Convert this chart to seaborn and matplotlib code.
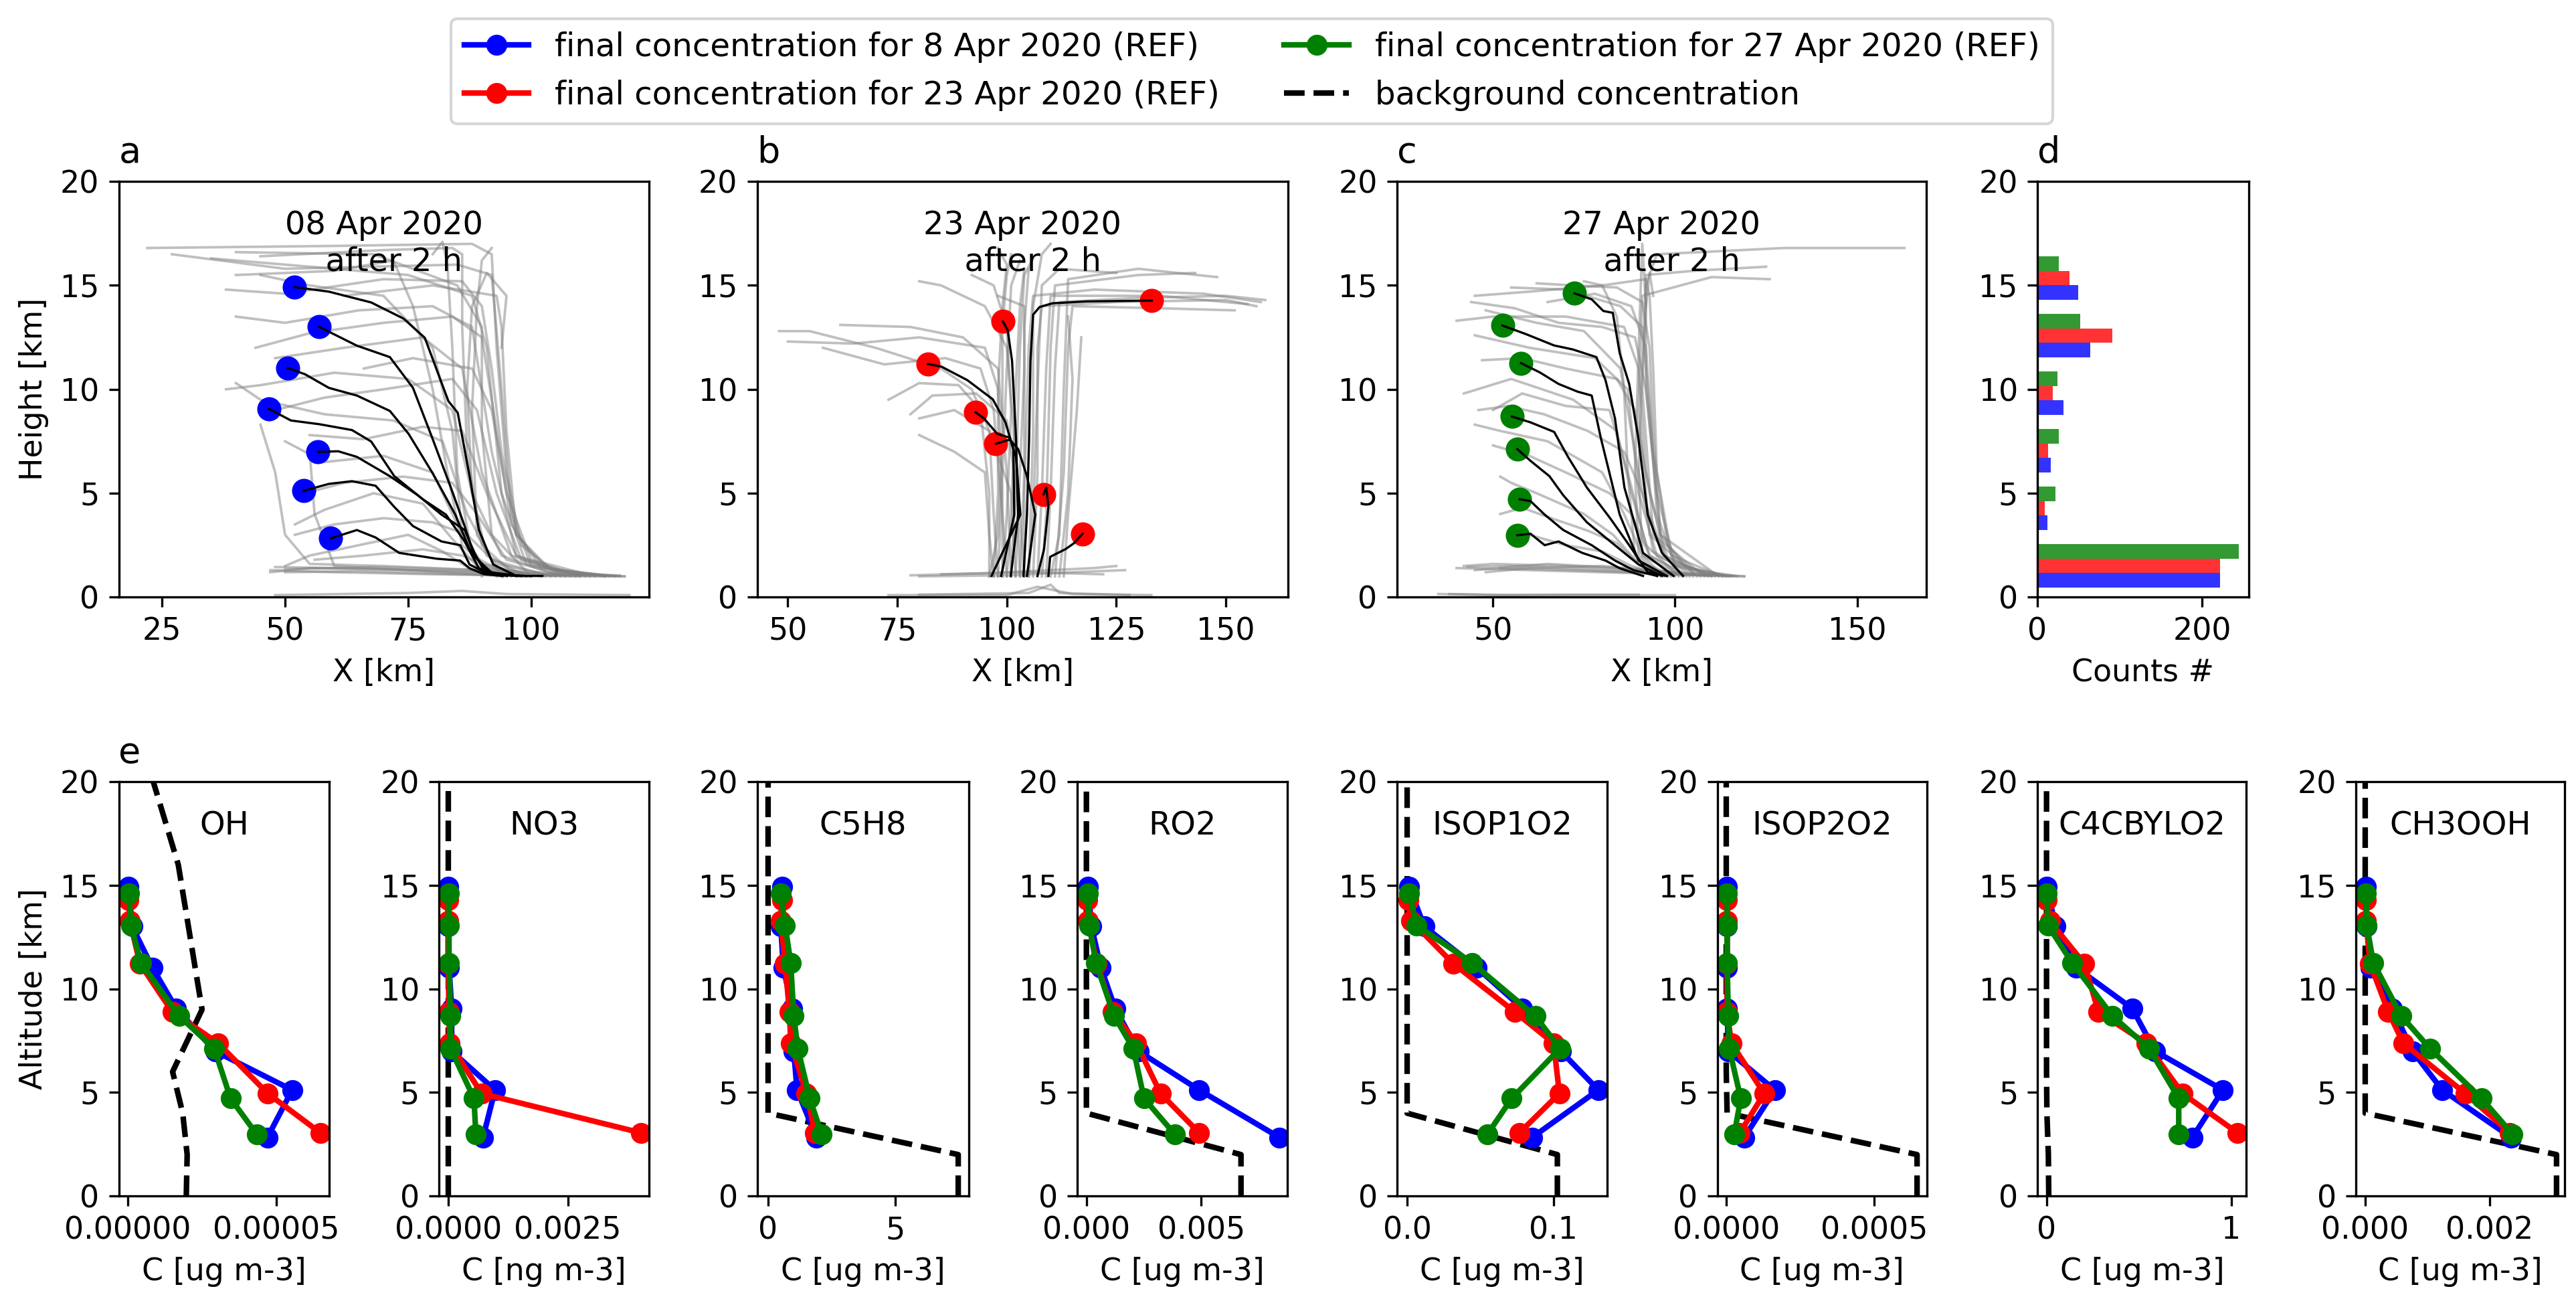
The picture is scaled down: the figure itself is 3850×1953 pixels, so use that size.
import numpy as np
import pandas as pd
import matplotlib
matplotlib.use("Agg")
import matplotlib.pyplot as plt
from matplotlib.lines import Line2D
import seaborn as sns

plt.rcParams['font.family'] = ['DejaVu Sans']
plt.rcParams['font.size'] = 11

# ---------------- data ----------------
date_labels = ["final concentration for 8 Apr 2020 (REF)",
               "final concentration for 23 Apr 2020 (REF)",
               "final concentration for 27 Apr 2020 (REF)"]
date_keys = ["8 Apr", "23 Apr", "27 Apr"]
date_colors = ["blue", "red", "green"]
panel_titles = ["08 Apr 2020\n  after 2 h", "23 Apr 2020\n  after 2 h", "27 Apr 2020\n  after 2 h"]

# final parcel heights (km)
h_8apr = [14.92, 13.01, 11.03, 9.06, 6.99, 5.12, 2.83]
h_23apr = [14.27, 13.27, 11.22, 8.89, 7.38, 4.95, 3.05]
h_27apr = [14.62, 13.07, 11.26, 8.69, 7.12, 4.71, 2.98]
# final parcel X positions (km)
x_8apr = [51.9, 56.9, 50.5, 46.7, 56.7, 53.8, 59.3]
x_23apr = [133.1, 99.1, 82.0, 92.9, 97.5, 108.4, 117.3]
x_27apr = [72.4, 52.6, 57.7, 55.2, 56.7, 57.3, 56.7]

# selected (black) trajectories, (x km, z km)
black_8apr = [
    [(102.3, 1.02), (97.0, 1.02), (92.3, 1.57), (89.4, 3.23), (87.5, 5.82), (85.1, 8.87), (83.2, 9.43), (78.4, 12.48), (74.1, 13.4), (67.5, 14.18), (58.9, 14.7), (51.9, 14.92)],
    [(99.0, 1.02), (92.3, 1.11), (88.5, 1.94), (86.5, 3.42), (83.7, 5.27), (79.9, 7.67), (76.0, 10.07), (71.3, 11.55), (64.6, 12.1), (56.9, 13.01)],
    [(98.0, 1.02), (91.3, 1.20), (87.5, 2.31), (84.6, 3.97), (79.9, 6.0), (75.1, 7.86), (71.3, 8.96), (64.6, 9.70), (58.9, 10.07), (54.1, 10.72), (50.5, 11.03)],
    [(94.2, 1.02), (89.4, 1.39), (86.5, 2.68), (82.7, 3.97), (78.0, 4.71), (72.2, 5.82), (67.5, 7.49), (63.6, 8.04), (57.0, 8.32), (51.2, 8.50), (46.7, 9.06)],
    [(95.1, 1.02), (90.4, 1.29), (88.5, 2.13), (86.5, 3.23), (81.8, 3.97), (77.0, 4.90), (71.3, 5.82), (64.6, 6.75), (60.8, 7.02), (56.7, 6.99)],
    [(97.0, 1.02), (91.3, 1.11), (87.5, 1.57), (85.6, 2.50), (81.8, 2.68), (76.0, 3.42), (72.2, 4.34), (68.4, 5.36), (63.6, 5.58), (58.9, 5.45), (53.8, 5.12)],
    [(94.2, 1.02), (90.4, 1.11), (87.5, 1.39), (85.6, 1.76), (80.8, 1.85), (73.2, 2.13), (68.4, 2.87), (64.6, 3.23), (59.3, 2.83)],
]
black_23apr = [
    [(103.8, 1.02), (104.6, 3.97), (105.1, 7.67), (105.4, 11.37), (106.0, 13.59), (107.5, 13.96), (110.4, 14.14), (118.2, 14.23), (133.1, 14.27)],
    [(100.9, 1.02), (102.6, 3.97), (102.1, 7.67), (101.2, 11.37), (100.2, 12.85), (99.1, 13.27)],
    [(98.7, 1.02), (101.7, 3.97), (101.5, 7.12), (99.7, 8.41), (96.8, 9.52), (91.0, 10.44), (85.1, 11.09), (82.0, 11.22)],
    [(96.5, 1.02), (103.1, 3.97), (102.1, 6.75), (100.7, 7.67), (97.8, 7.86), (94.8, 8.60), (92.9, 8.89)],
    [(104.6, 1.02), (106.5, 3.97), (104.6, 5.82), (102.6, 7.12), (100.7, 7.58), (97.5, 7.38)],
    [(107.0, 1.02), (108.5, 2.31), (109.5, 4.34), (109.0, 5.27), (108.4, 4.95)],
    [(109.5, 1.02), (109.9, 1.94), (113.4, 2.31), (115.3, 2.59), (117.3, 3.05)],
]
black_27apr = [
    [(102.2, 1.02), (96.4, 2.13), (92.5, 3.97), (89.9, 7.67), (87.4, 10.26), (84.8, 11.74), (82.9, 13.68), (80.3, 13.77), (77.1, 14.33), (72.4, 14.62)],
    [(99.6, 1.02), (91.2, 2.13), (86.1, 5.27), (83.5, 8.60), (80.9, 10.44), (78.4, 11.55), (71.9, 11.92), (66.8, 12.11), (59.0, 12.66), (52.6, 13.07)],
    [(97.7, 1.02), (90.0, 1.76), (84.8, 3.97), (79.6, 7.67), (77.1, 9.70), (73.2, 9.89), (68.0, 10.26), (62.9, 10.81), (57.7, 11.26)],
    [(97.7, 1.02), (92.5, 1.20), (87.4, 2.50), (82.2, 3.79), (75.8, 5.27), (70.6, 6.75), (66.8, 7.95), (60.3, 8.41), (55.2, 8.69)],
    [(96.4, 1.02), (90.0, 1.57), (84.8, 2.31), (75.8, 3.60), (69.3, 4.90), (65.5, 5.82), (60.3, 6.56), (56.7, 7.12)],
    [(95.1, 1.02), (88.7, 1.29), (83.5, 1.76), (77.1, 2.50), (69.3, 3.23), (64.2, 3.97), (60.3, 4.62), (57.3, 4.71)],
    [(91.2, 1.02), (84.8, 1.39), (80.9, 1.76), (74.5, 2.13), (68.0, 2.68), (64.2, 2.50), (60.3, 3.05), (56.7, 2.98)],
]

# other (grey) trajectories, (x km, z km)
grey_8apr = [
    [(119, 1.0), (105, 1.2), (98, 2.5), (95, 6), (93, 12), (92, 16.5), (88, 17.0), (60, 16.9), (22, 16.8)],
    [(115, 1.0), (100, 1.5), (96, 4), (94, 10), (92, 15.5), (85, 16.0), (50, 15.8), (27, 16.5)],
    [(112, 1.0), (99, 1.6), (94, 5), (91, 12), (88, 14.5), (75, 15.5), (55, 15.9), (35, 16.3)],
    [(110, 1.0), (97, 2), (92, 7), (88, 13), (80, 14), (65, 13.8), (50, 13.2), (40, 13.5)],
    [(108, 1.0), (96, 2), (90, 6), (86, 11), (78, 12.5), (62, 12), (48, 11.5)],
    [(106, 1.0), (94, 2), (88, 5), (84, 9), (75, 10.5), (60, 10.8), (45, 10.2), (38, 10.0)],
    [(104, 1.0), (92, 1.8), (87, 4), (82, 7.5), (72, 8.5), (58, 8.8), (45, 9.5), (40, 10.3)],
    [(102, 1.0), (90, 1.6), (85, 3.5), (80, 6), (70, 6.8), (58, 6.5), (50, 7.5)],
    [(100, 1.0), (89, 1.5), (84, 2.8), (78, 4.5), (68, 5), (58, 4.2), (52, 3.5)],
    [(98, 1.0), (88, 1.3), (82, 2.2), (75, 3), (65, 2.5), (55, 2.0), (50, 1.5)],
    [(96, 1.0), (88, 2), (85, 6), (84, 12), (83, 16), (82, 17.1), (80, 16.5)],
    [(94, 1.0), (89, 3), (88, 9), (89, 14), (90, 16.2), (92, 16.8)],
    [(90, 1.0), (86, 3), (84, 8), (80, 12), (70, 14.5), (55, 15), (45, 15.5)],
    [(100, 1.0), (92, 3), (90, 8), (90, 13), (85, 15), (68, 16.5), (40, 16.6)],
    [(117, 1.0), (103, 1.4), (97, 3), (95, 8), (94, 13), (93, 14.5), (80, 15), (62, 14.5)],
    [(113, 1.0), (100, 1.8), (95, 5), (92, 9), (88, 11), (76, 11.5), (66, 11)],
    [(118, 1.0), (104, 1.3), (97, 3), (94, 7), (92, 11), (90, 14), (86, 15.2), (70, 15.3), (50, 14.6), (38, 14.8)],
    [(116, 1.0), (102, 1.4), (96, 3.5), (93, 8), (90, 12.5), (84, 13.5), (70, 13.2), (55, 12.7), (44, 12.0)],
    [(111, 1.0), (98, 1.8), (93, 5), (89, 9), (84, 10.5), (70, 10), (58, 9.6), (48, 9.0)],
    [(109, 1.0), (97, 2), (91, 5), (86, 8), (78, 8.2), (66, 7.6), (55, 7.8)],
    [(107, 1.0), (95, 1.8), (89, 4), (84, 5.5), (74, 5.8), (62, 5.5), (54, 5.0)],
    [(105, 1.0), (93, 1.6), (87, 3), (80, 3.6), (70, 3.8), (60, 3.5), (52, 3.0)],
    [(103, 1.0), (92, 1.4), (86, 2), (78, 2.3), (66, 2.0), (56, 1.8)],
    [(97, 1.0), (90, 2.5), (87, 7), (86, 13), (86, 16.5), (84, 16.8), (70, 16.7), (45, 16.4)],
    [(93, 1.0), (86, 2.5), (83, 6), (80, 10), (76, 14), (72, 16.2), (60, 15.7), (40, 15.5)],
    [(99, 1.0), (91, 2), (88, 5), (87, 10), (88, 14), (91, 15.6), (95, 14.5), (94, 12)],
    [(100, 1.0), (90, 1.3), (70, 1.5), (55, 1.6), (50, 3), (48, 6), (45, 8.3)],
    [(95, 1.0), (75, 1.3), (60, 1.5), (56, 4), (55, 7)],
    [(119, 1.0), (100, 1.05), (80, 1.1), (60, 1.2), (47, 1.3)],
    [(115, 1.0), (90, 1.2), (70, 1.35), (48, 1.45)],
    [(110, 1.0), (85, 1.1), (65, 1.25), (50, 1.2)],
    [(118, 1.05), (95, 1.15), (75, 1.3), (55, 1.4), (47, 1.2)],
    [(112, 1.1), (90, 1.3), (68, 1.45), (50, 1.35)],
    [(120, 0.1), (95, 0.15), (86, 0.3), (75, 0.2), (48, 0.1)],
]
grey_23apr = [
    [(96, 1.0), (98, 3), (99, 8), (99, 13), (100, 15.5), (101, 16.5)],
    [(100, 1.0), (101, 4), (102, 10), (103, 14), (104, 15.8)],
    [(104, 1.0), (104, 5), (105, 12), (106, 14.5), (120, 14.8), (145, 14.6), (158, 14.2)],
    [(106, 1.0), (107, 6), (107, 12), (108, 14), (125, 14.2), (150, 14.3), (157, 14.0)],
    [(108, 1.0), (109, 4), (110, 12), (111, 15), (130, 15.5), (143, 15.6)],
    [(110, 1.0), (112, 3), (113, 10), (114, 15.3), (130, 15.8), (148, 15.4)],
    [(112, 1.0), (114, 5), (115, 10.5), (114, 13.5)],
    [(98, 1.0), (97, 4), (96, 8), (92, 10), (85, 11), (70, 12), (55, 12.8), (48, 12.8)],
    [(99, 1.0), (99, 5), (98, 10), (95, 12), (80, 12.5), (65, 12.2), (50, 12.3)],
    [(101, 1.0), (100, 6), (98, 11), (90, 12.5), (78, 13), (62, 13.1)],
    [(102, 1.0), (101, 5), (96, 8), (88, 9), (80, 8.6)],
    [(97, 1.0), (96, 3), (95, 6), (88, 7), (80, 7.8)],
    [(103, 1.0), (102, 7), (100, 12), (95, 14), (85, 15), (80, 15.2)],
    [(105, 1.0), (106, 8), (106, 14), (108, 16.5), (110, 17)],
    [(99, 1.0), (100, 4), (101, 9), (100, 13), (97, 15), (92, 15.5)],
    [(107, 1.0), (108, 5), (109, 11), (110, 14.5), (135, 14.5), (155, 14.1)],
    [(102, 1.0), (103, 6), (104, 11), (104, 14), (98, 14.5)],
    [(97, 1.0), (98, 5), (98, 10), (99, 14), (100, 16), (98, 16.8)],
    [(98, 1.0), (99, 6), (100, 11), (101, 15), (103, 16.2)],
    [(101, 1.0), (102, 5), (103, 12), (104, 15.5), (106, 16.3)],
    [(103, 1.0), (104, 6), (104, 13), (105, 15.8)],
    [(105, 1.0), (106, 4), (107, 10), (108, 15), (112, 15.8), (125, 15.6)],
    [(109, 1.0), (110, 5), (111, 11), (112, 14.2), (130, 14.4), (150, 14.5), (159, 14.3)],
    [(111, 1.0), (113, 6), (114, 12), (115, 14.0), (135, 13.9), (152, 13.8)],
    [(113, 1.0), (114, 4), (116, 9), (117, 12.5)],
    [(100, 1.0), (99, 4), (97, 9), (94, 11), (86, 11.5), (72, 11.2), (58, 12.0)],
    [(96, 1.0), (96, 5), (94, 9), (89, 10.2), (80, 10.3), (73, 9.5)],
    [(104, 1.0), (103, 4), (100, 8.5), (93, 9.8), (83, 9.7), (78, 8.8)],
    [(80, 1.0), (100, 1.05), (115, 1.2), (127, 1.3)],
    [(78, 1.05), (95, 1.15), (120, 1.4), (125, 1.5)],
    [(85, 1.1), (105, 1.2), (122, 1.1)],
    [(73, 0.1), (100, 0.1), (107, 0.5), (115, 0.15), (133, 0.1)],
    [(80, 0.12), (105, 0.2), (110, 0.6), (112, 0.2), (128, 0.1)],
]
grey_27apr = [
    [(119, 1.0), (105, 1.2), (98, 2.5), (95, 6), (94, 11), (93, 14.5), (92, 15.3), (80, 15.0), (60, 14.7), (45, 14.5)],
    [(115, 1.0), (100, 1.5), (95, 4), (93, 9), (91, 13), (85, 14), (70, 14.8), (55, 14.9)],
    [(110, 1.0), (97, 2), (92, 6), (90, 11), (86, 13), (70, 13.5), (50, 13.5), (40, 13.3)],
    [(107, 1.0), (95, 2), (90, 5), (87, 10), (78, 11.5), (60, 12), (45, 12.6)],
    [(104, 1.0), (93, 2), (88, 5), (84, 8), (72, 9.5), (55, 10.5), (42, 9.8)],
    [(102, 1.0), (91, 2), (86, 4), (80, 6), (65, 7.5), (52, 8.0), (45, 8.3)],
    [(100, 1.0), (89, 1.8), (83, 3), (75, 4), (62, 5), (55, 5.5), (52, 5.8)],
    [(98, 1.0), (88, 1.5), (80, 2.2), (70, 2.5), (60, 3.0), (55, 3.2)],
    [(96, 1.0), (90, 2), (89, 6), (90, 12), (91, 17), (92, 14)],
    [(112, 1.0), (96, 3), (92, 10), (92, 15), (95, 16.5), (130, 16.8), (163, 16.8)],
    [(108, 1.0), (94, 3), (91, 10), (92, 15.5), (105, 15.7), (125, 15.9)],
    [(106, 1.0), (93, 3), (90, 9), (91, 14.5), (110, 15.4), (126, 15.3)],
    [(113, 1.0), (99, 2), (94, 7), (92, 12), (88, 14), (78, 14.6), (65, 14.2)],
    [(105, 1.0), (94, 2.2), (89, 7), (85, 11), (75, 12.8), (62, 13.2), (48, 13.8)],
    [(101, 1.0), (92, 2.5), (87, 6), (82, 9), (70, 9.2), (58, 9.8), (50, 9.0)],
    [(117, 1.0), (103, 1.4), (96, 3), (94, 8), (93, 12), (91, 14.2), (84, 14.9), (72, 15.0), (62, 15.1)],
    [(114, 1.0), (100, 1.6), (95, 5), (92, 10), (89, 12.5), (80, 13.0), (68, 13.2), (56, 13.9), (44, 14.2)],
    [(111, 1.0), (98, 1.8), (93, 5), (89, 9), (84, 10.5), (70, 11), (58, 11.5), (47, 11.4)],
    [(109, 1.0), (97, 2), (91, 5), (86, 7), (76, 8), (64, 8.8), (54, 9.2), (46, 9.0)],
    [(103, 1.0), (93, 2), (88, 4), (82, 5), (70, 6), (60, 6.8), (50, 7.3)],
    [(99, 1.0), (90, 1.6), (84, 2.6), (76, 3.2), (66, 3.8), (58, 4.3), (52, 4.0)],
    [(97, 1.0), (91, 2), (90, 6), (91, 11), (92, 14), (93, 15.6), (94, 14.5)],
    [(95, 1.0), (89, 2), (87, 6), (86, 10), (84, 13.5), (80, 15), (75, 15.2)],
    [(119, 1.0), (100, 1.1), (80, 1.2), (60, 1.3), (40, 1.4)],
    [(112, 1.05), (90, 1.3), (70, 1.5), (50, 1.6), (42, 1.5)],
    [(105, 1.1), (85, 1.4), (65, 1.6), (45, 1.3)],
    [(100, 1.2), (80, 1.5), (60, 1.4), (48, 1.2)],
    [(110, 1.02), (92, 1.2), (75, 1.35), (55, 1.5), (43, 1.45)],
    [(116, 1.0), (95, 1.15), (72, 1.3), (52, 1.4)],
    [(35, 0.15), (55, 0.1), (85, 0.1), (100, 0.1)],
    [(90, 0.12), (70, 0.12), (50, 0.1), (38, 0.15)],
]

# counts histogram (panel d)
hist_bin_edges = [0.12, 2.89, 5.66, 8.43, 11.20, 13.97, 16.74]
hist_bin_centres = [1.505, 4.275, 7.045, 9.815, 12.585, 15.355]
counts_8apr = [222, 12, 16, 32, 64, 50]
counts_23apr = [222, 9, 13, 19, 91, 39]
counts_27apr = [245, 22, 26, 24, 52, 26]

# vertical profiles (panel e)
species = ["OH", "NO3", "C5H8", "RO2", "ISOP1O2", "ISOP2O2", "C4CBYLO2", "CH3OOH"]
units = ["C [ug m-3]", "C [ng m-3]", "C [ug m-3]", "C [ug m-3]",
         "C [ug m-3]", "C [ug m-3]", "C [ug m-3]", "C [ug m-3]"]
bg_alt = [0, 2, 4, 6, 9, 16, 20]

OH_8apr = [3e-7, 1.5e-6, 8.3e-6, 1.63e-5, 2.94e-5, 5.53e-5, 4.70e-5]
OH_23apr = [3e-7, 7.5e-7, 4.1e-6, 1.50e-5, 3.04e-5, 4.71e-5, 6.48e-5]
OH_27apr = [4.5e-7, 1.05e-6, 4.5e-6, 1.73e-5, 2.91e-5, 3.46e-5, 4.34e-5]
OH_bg = [1.97e-5, 2.0e-5, 1.85e-5, 1.51e-5, 2.5e-5, 1.7e-5, 8.6e-6]

NO3_8apr = [0.0, 0.0, 2e-5, 7.5e-5, 7.5e-5, 9.8e-4, 7.3e-4]
NO3_23apr = [0.0, 0.0, 0.0, 2e-5, 3e-5, 7.0e-4, 4.03e-3]
NO3_27apr = [2e-5, 2e-5, 2e-5, 5e-5, 5e-5, 5.4e-4, 5.8e-4]
NO3_bg = [0.0, 0.0, 0.0, 0.0, 0.0, 0.0, 0.0]

C5H8_8apr = [0.55, 0.50, 0.60, 0.94, 1.01, 1.14, 1.90]
C5H8_23apr = [0.55, 0.50, 0.67, 0.84, 0.89, 1.51, 1.85]
C5H8_27apr = [0.50, 0.67, 0.89, 1.01, 1.17, 1.64, 2.11]
C5H8_bg = [7.48, 7.48, 0.0, 0.0, 0.0, 0.0, 0.0]

RO2_8apr = [7e-5, 2.2e-4, 6.3e-4, 1.25e-3, 2.27e-3, 4.91e-3, 8.40e-3]
RO2_23apr = [4e-5, 7e-5, 4.6e-4, 1.15e-3, 2.17e-3, 3.23e-3, 4.91e-3]
RO2_27apr = [7e-5, 1.3e-4, 4.1e-4, 1.21e-3, 2.04e-3, 2.51e-3, 3.85e-3]
RO2_bg = [6.73e-3, 6.73e-3, 0.0, 0.0, 0.0, 0.0, 0.0]

ISOP1O2_8apr = [0.0015, 0.0117, 0.0475, 0.0787, 0.105, 0.1306, 0.0854]
ISOP1O2_23apr = [0.0009, 0.0029, 0.0315, 0.0735, 0.100, 0.104, 0.0767]
ISOP1O2_27apr = [0.0015, 0.0064, 0.0443, 0.0875, 0.1044, 0.0714, 0.0548]
ISOP1O2_bg = [0.1026, 0.1026, 0.0, 0.0, 0.0, 0.0, 0.0]

ISOP2O2_8apr = [3e-6, 3e-6, 3e-6, 3e-6, 7e-6, 1.64e-4, 6.1e-5]
ISOP2O2_23apr = [3e-6, 3e-6, 3e-6, 3e-6, 1.7e-5, 1.28e-4, 4.6e-5]
ISOP2O2_27apr = [3e-6, 3e-6, 3e-6, 7e-6, 1.0e-5, 4.9e-5, 2.7e-5]
ISOP2O2_bg = [6.44e-4, 6.44e-4, 3e-6, 0.0, 0.0, 0.0, 0.0]

C4CBYLO2_8apr = [0.0, 0.05, 0.16, 0.463, 0.588, 0.954, 0.789]
C4CBYLO2_23apr = [0.0, 0.018, 0.204, 0.281, 0.539, 0.735, 1.033]
C4CBYLO2_27apr = [0.002, 0.007, 0.138, 0.357, 0.555, 0.715, 0.715]
C4CBYLO2_bg = [0.012, 0.010, 0.002, 0.0, 0.0, 0.0, 0.0]

CH3OOH_8apr = [1.3e-5, 2.6e-5, 9.1e-5, 4.36e-4, 7.62e-4, 1.238e-3, 2.345e-3]
CH3OOH_23apr = [1.3e-5, 1.3e-5, 7.8e-5, 3.71e-4, 6.12e-4, 1.609e-3, 2.326e-3]
CH3OOH_27apr = [1.3e-5, 2.6e-5, 1.3e-4, 5.8e-4, 1.042e-3, 1.87e-3, 2.371e-3]
CH3OOH_bg = [3.075e-3, 3.075e-3, 0.0, 0.0, 0.0, 0.0, 0.0]

profiles = {
    "OH": (OH_8apr, OH_23apr, OH_27apr, OH_bg),
    "NO3": (NO3_8apr, NO3_23apr, NO3_27apr, NO3_bg),
    "C5H8": (C5H8_8apr, C5H8_23apr, C5H8_27apr, C5H8_bg),
    "RO2": (RO2_8apr, RO2_23apr, RO2_27apr, RO2_bg),
    "ISOP1O2": (ISOP1O2_8apr, ISOP1O2_23apr, ISOP1O2_27apr, ISOP1O2_bg),
    "ISOP2O2": (ISOP2O2_8apr, ISOP2O2_23apr, ISOP2O2_27apr, ISOP2O2_bg),
    "C4CBYLO2": (C4CBYLO2_8apr, C4CBYLO2_23apr, C4CBYLO2_27apr, C4CBYLO2_bg),
    "CH3OOH": (CH3OOH_8apr, CH3OOH_23apr, CH3OOH_27apr, CH3OOH_bg),
}
profile_xticks = {
    "OH": [0, 5e-5], "NO3": [0, 0.0025], "C5H8": [0, 5], "RO2": [0, 0.005],
    "ISOP1O2": [0, 0.1], "ISOP2O2": [0, 0.0005], "C4CBYLO2": [0, 1], "CH3OOH": [0, 0.002],
}
profile_xlim = {
    "OH": (-3.0e-6, 6.78e-5), "NO3": (-1.87e-4, 4.19e-3), "C5H8": (-0.42, 7.89),
    "RO2": (-3.9e-4, 8.75e-3), "ISOP1O2": (-0.0067, 0.1367), "ISOP2O2": (-3.0e-5, 6.77e-4),
    "C4CBYLO2": (-0.048, 1.081), "CH3OOH": (-1.5e-4, 3.205e-3),
}

# ---------------- layout ----------------
W, H = 3850, 1953
fig = plt.figure(figsize=(W / 300, H / 300), dpi=300)


def rect(x0, x1, ytop, ybot):
    return [x0 / W, 1 - ybot / H, (x1 - x0) / W, (ybot - ytop) / H]


top_y = (271.2, 892.3)
bot_y = (1168.0, 1787.2)
ax_a = fig.add_axes(rect(177.5, 970.2, *top_y))
ax_b = fig.add_axes(rect(1131.6, 1925.0, *top_y))
ax_c = fig.add_axes(rect(2087.7, 2879.0, *top_y))
ax_d = fig.add_axes(rect(3045.0, 3361.0, *top_y))
bot_left = [177.5, 656.3, 1132.0, 1610.3, 2088.4, 2566.7, 3045.4, 3521.0]
bot_right = [492.2, 969.7, 1447.7, 1924.1, 2402.2, 2879.8, 3357.4, 3833.0]
bot_axes = [fig.add_axes(rect(l, r, *bot_y)) for l, r in zip(bot_left, bot_right)]


def traj_frame(trajs):
    rows = []
    for i, t in enumerate(trajs):
        for k, (x, z) in enumerate(t):
            rows.append((i, k, x, z))
    return pd.DataFrame(rows, columns=["tid", "step", "x", "z"])


top_axes = [ax_a, ax_b, ax_c]
greys = [grey_8apr, grey_23apr, grey_27apr]
blacks = [black_8apr, black_23apr, black_27apr]
dots_x = [x_8apr, x_23apr, x_27apr]
dots_z = [h_8apr, h_23apr, h_27apr]
top_xlim = [(16.2, 124.0), (43.0, 164.2), (23.6, 169.0)]
top_xticks = [[25, 50, 75, 100], [50, 75, 100, 125, 150], [50, 100, 150]]

for i, ax in enumerate(top_axes):
    g = traj_frame(greys[i])
    sns.lineplot(data=g, x="x", y="z", units="tid", estimator=None, sort=False,
                 color="grey", alpha=0.5, lw=0.9, ax=ax, legend=False)
    sns.scatterplot(x=dots_x[i], y=dots_z[i], color=date_colors[i], s=75,
                    linewidth=0, ax=ax, zorder=3, legend=False)
    b = traj_frame(blacks[i])
    sns.lineplot(data=b, x="x", y="z", units="tid", estimator=None, sort=False,
                 color="black", lw=0.8, ax=ax, legend=False, zorder=4)
    ax.set_xlim(*top_xlim[i])
    ax.set_ylim(0, 20)
    ax.set_xticks(top_xticks[i])
    ax.set_yticks([0, 5, 10, 15, 20])
    ax.set_xlabel("X [km]")
    ax.set_ylabel("")
    ax.text(0.5, 0.932, panel_titles[i], transform=ax.transAxes,
            ha="center", va="top", fontsize=11.5, zorder=6)
ax_a.set_ylabel("Height [km]")

# panel d
hist_df = pd.DataFrame({
    "height": hist_bin_centres * 3,
    "count": counts_8apr + counts_23apr + counts_27apr,
    "date": [date_keys[0]] * 6 + [date_keys[1]] * 6 + [date_keys[2]] * 6,
})
sns.histplot(data=hist_df, y="height", weights="count", hue="date",
             hue_order=date_keys, palette=dict(zip(date_keys, date_colors)),
             bins=hist_bin_edges, multiple="dodge", shrink=0.75, alpha=0.8,
             linewidth=0, legend=False, ax=ax_d)
ax_d.set_xlim(0, 257)
ax_d.set_ylim(0, 20)
ax_d.set_xticks([0, 200])
ax_d.set_yticks([0, 5, 10, 15, 20])
ax_d.set_xlabel("Counts #")
ax_d.set_ylabel("")

for lbl, ax in zip("abcd", [ax_a, ax_b, ax_c, ax_d]):
    ax.text(0.0, 1.045, lbl, transform=ax.transAxes, ha="left", va="baseline", fontsize=13)

# panel e
heights = [h_8apr, h_23apr, h_27apr]
for j, (sp, ax) in enumerate(zip(species, bot_axes)):
    vals = profiles[sp]
    sns.lineplot(x=vals[3], y=bg_alt, sort=False, estimator=None, color="black",
                 linestyle="--", lw=2, ax=ax, legend=False)
    for k in range(3):
        sns.lineplot(x=vals[k], y=heights[k], sort=False, estimator=None,
                     color=date_colors[k], lw=2, marker="o", markersize=7.5,
                     markeredgewidth=0, ax=ax, legend=False)
    ax.set_xlim(*profile_xlim[sp])
    ax.set_ylim(0, 20)
    ax.set_xticks(profile_xticks[sp])
    ax.set_yticks([0, 5, 10, 15, 20])
    ax.ticklabel_format(axis="x", style="plain", useOffset=False)
    ax.set_xlabel(units[j])
    ax.set_ylabel("")
    ax.text(0.5, 0.932, sp, transform=ax.transAxes, ha="center", va="top", fontsize=11.5)
bot_axes[0].set_ylabel("Altitude [km]")
bot_axes[0].text(0.0, 1.046, "e", transform=bot_axes[0].transAxes, ha="left",
                 va="baseline", fontsize=13)

# legend
handles = [Line2D([], [], color=c, lw=2, marker="o", markersize=7.5, markeredgewidth=0)
           for c in date_colors]
handles.append(Line2D([], [], color="black", lw=2, linestyle="--"))
labels = date_labels + ["background concentration"]
fig.legend(handles, labels, loc="upper center", bbox_to_anchor=(0.486, 0.998),
           ncol=2, fontsize=11.6)

fig.savefig("out.png", dpi=300)
